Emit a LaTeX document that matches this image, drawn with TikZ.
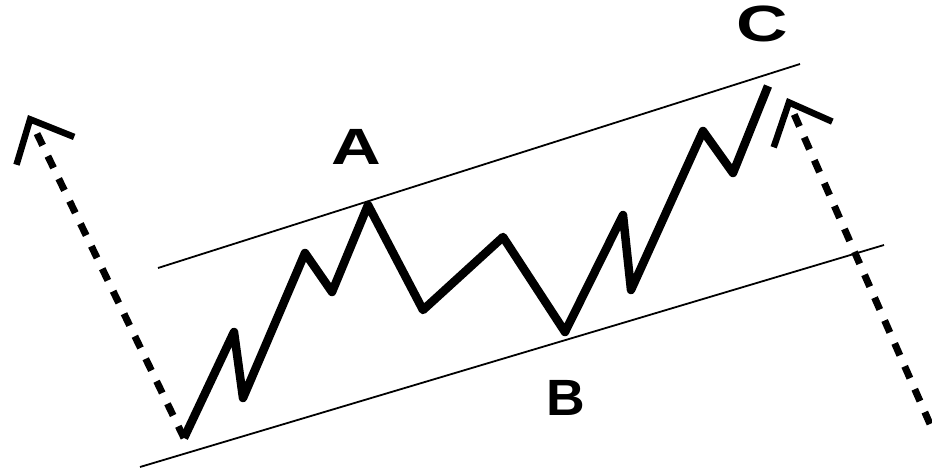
\documentclass[tikz,border=0pt]{standalone}
\usepackage{fontspec}
\setmainfont{Liberation Sans}
\usetikzlibrary{arrows.meta}

\begin{document}
\begin{tikzpicture}[
  x=1pt, y=-1pt,
  wave/.style={draw, line width=8.5pt, line join=round},
  trend/.style={draw, line width=1.8pt},
  dasharrow/.style={draw, line width=7pt, dash pattern=on 13pt off 12pt,
    -{Straight Barb[length=35pt, width=64pt, line width=6.5pt]}},
  label/.style={inner sep=0pt, font=\bfseries\fontsize{51}{51}\selectfont}
]
\useasboundingbox (0,0) rectangle (932,471);

\coordinate (w0) at (184,438);
\coordinate (w1) at (234,332);
\coordinate (w2) at (243,398);
\coordinate (w3) at (305,253);
\coordinate (w4) at (332,292);
\coordinate (w5) at (368,205);
\coordinate (w6) at (423,310);
\coordinate (w7) at (503,237);
\coordinate (w8) at (565,332);
\coordinate (w9) at (623,215);
\coordinate (w10) at (631,290);
\coordinate (w11) at (703,131);
\coordinate (w12) at (733,173);
\coordinate (w13) at (768,86);

\coordinate (top0) at (158,268);
\coordinate (top1) at (800,64);
\coordinate (bot0) at (140,467);
\coordinate (bot1) at (884,245);

\coordinate (ltip) at (28,115);
\coordinate (rtip) at (787,98);
\coordinate (rend) at (930,424);

\draw[trend] (top0) -- (top1);
\draw[trend] (bot0) -- (bot1);

\draw[wave] (w0) -- (w1) -- (w2) -- (w3) -- (w4) -- (w5) -- (w6)
  -- (w7) -- (w8) -- (w9) -- (w10) -- (w11) -- (w12) -- (w13);

\draw[dasharrow] (w0) -- (ltip);
\draw[dasharrow] (rend) -- (rtip);

\node[label, xscale=1.35] (lA) at (356,147) {A};
\node[label, xscale=1.05] (lB) at (566,398) {B};
\node[label, xscale=1.4] (lC) at (762,24) {C};
\end{tikzpicture}
\end{document}
